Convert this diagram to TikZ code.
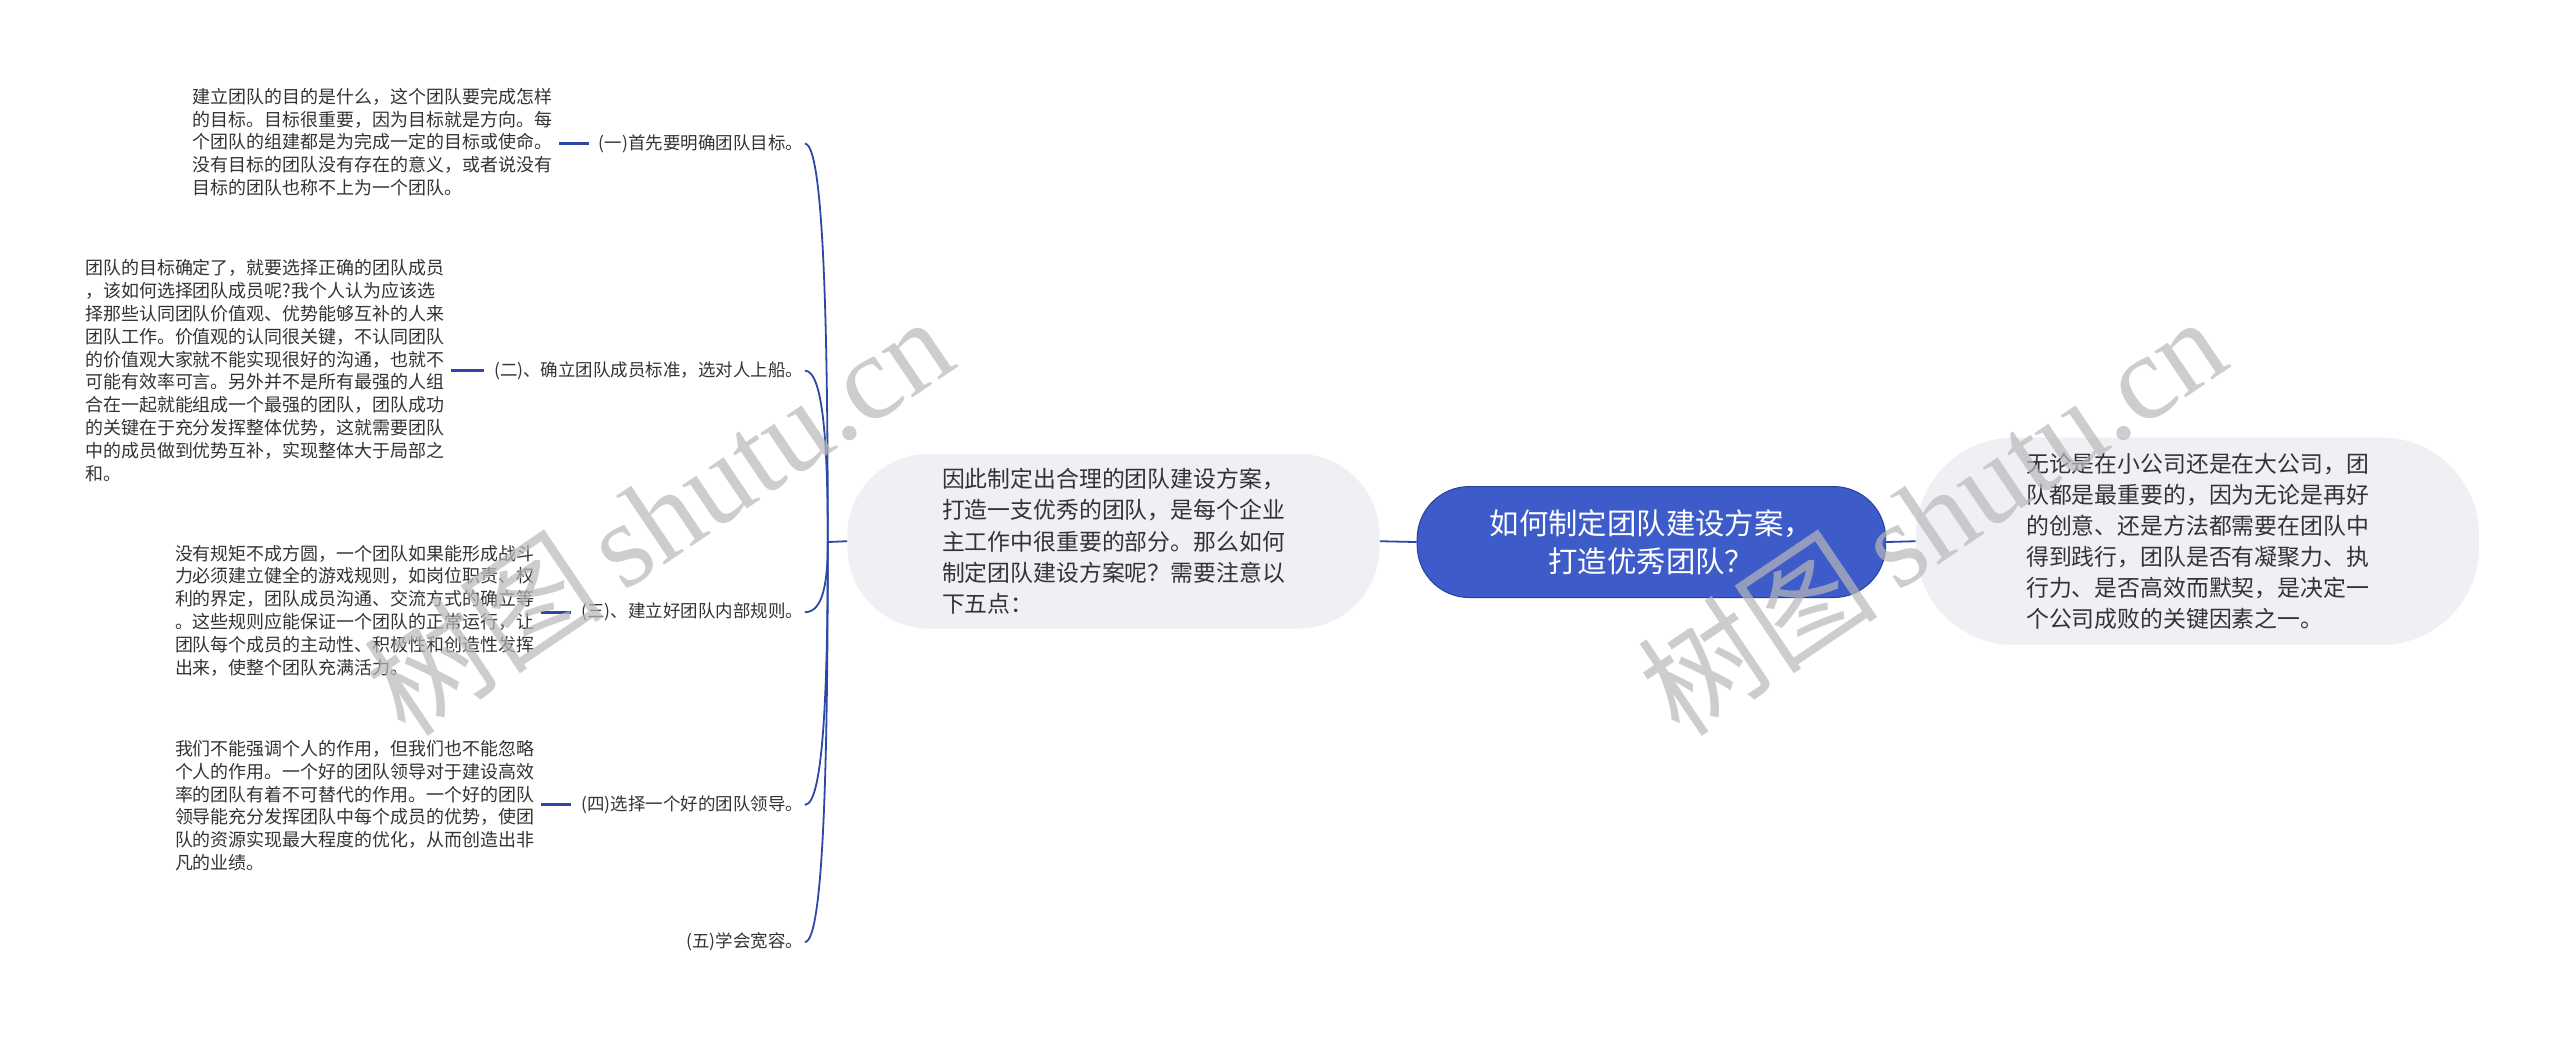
\documentclass[tikz,border=0pt]{standalone}
\usepackage{fontspec}
\setmainfont{Noto Sans CJK SC}
\newfontfamily\wmfont{Liberation Serif}
\definecolor{lineblue}{RGB}{44,72,166}
\definecolor{hubblue}{RGB}{61,91,201}
\definecolor{hubedge}{RGB}{40,64,150}
\definecolor{bggray}{RGB}{238,240,244}
\definecolor{textgray}{RGB}{51,51,51}
\definecolor{wmgray}{RGB}{185,185,185}
\tikzset{
  desc/.style={anchor=west, align=left, inner sep=0pt, text=textgray,
    font=\fontsize{11}{14}\selectfont},
  lab/.style={anchor=east, inner xsep=1pt, inner ysep=2pt, text=textgray,
    font=\fontsize{10.7}{14}\selectfont},
  branch/.style={draw=lineblue, line width=1.1pt},
  tick/.style={draw=lineblue, line width=1.8pt},
  pill/.style={fill=bggray, align=left, text=textgray, inner sep=0pt,
    font=\fontsize{14}{19}\selectfont},
  centre/.style={fill=hubblue, draw=hubedge, line width=0.6pt, align=center,
    text=white, inner sep=0pt, minimum width=287pt, minimum height=68pt,
    rounded corners=32pt, font=\fontsize{18}{23}\selectfont},
  wm/.style={text=wmgray, opacity=0.7, rotate=34, inner sep=0pt}
}
\begin{document}
\begin{tikzpicture}[x=1pt,y=-1pt]
\fill[white] (0,0) rectangle (1568,636);
\useasboundingbox (0,0) rectangle (1568,636);

% central and first-level nodes
\node[centre] (c) at (1011.5,332) {如何制定团队建设方案，\\打造优秀团队？};
\node[pill, minimum width=345pt, minimum height=127pt, rounded corners=60pt] (r) at (1346,331.5)
  {无论是在小公司还是在大公司，团\\队都是最重要的，因为无论是再好\\的创意、还是方法都需要在团队中\\得到践行，团队是否有凝聚力、执\\行力、是否高效而默契，是决定一\\个公司成败的关键因素之一。};
\node[pill, minimum width=326pt, minimum height=107pt, rounded corners=50pt] (m) at (682,331.5)
  {因此制定出合理的团队建设方案，\\打造一支优秀的团队，是每个企业\\主工作中很重要的部分。那么如何\\制定团队建设方案呢？需要注意以\\下五点：};
\draw[branch] (c.east) -- (r.west);
\draw[branch] (c.west) -- (m.east);

% five points
\node[lab] (l1) at (493,88) {(一)首先要明确团队目标。};
\node[lab] (l2) at (493,227) {(二)、确立团队成员标准，选对人上船。};
\node[lab] (l3) at (493,375) {(三)、建立好团队内部规则。};
\node[lab] (l4) at (493,493) {(四)选择一个好的团队领导。};
\node[lab] (l5) at (493,577) {(五)学会宽容。};

\coordinate (hub) at (507,332);
\draw[branch] (hub) -- (m.west);
\foreach \n/\yy in {l1/88,l2/227,l3/375,l4/493,l5/577}{
  \draw[branch] (hub) .. controls (507,{332+0.5*(\yy-332)}) and (505,\yy) .. (\n.east);
}

% descriptions
\node[desc] (d1) at (118,87) {建立团队的目的是什么，这个团队要完成怎样\\的目标。目标很重要，因为目标就是方向。每\\个团队的组建都是为完成一定的目标或使命。\\没有目标的团队没有存在的意义，或者说没有\\目标的团队也称不上为一个团队。};
\node[desc] (d2) at (52,227) {团队的目标确定了，就要选择正确的团队成员\\，该如何选择团队成员呢?我个人认为应该选\\择那些认同团队价值观、优势能够互补的人来\\团队工作。价值观的认同很关键，不认同团队\\的价值观大家就不能实现很好的沟通，也就不\\可能有效率可言。另外并不是所有最强的人组\\合在一起就能组成一个最强的团队，团队成功\\的关键在于充分发挥整体优势，这就需要团队\\中的成员做到优势互补，实现整体大于局部之\\和。};
\node[desc] (d3) at (107,374) {没有规矩不成方圆，一个团队如果能形成战斗\\力必须建立健全的游戏规则，如岗位职责、权\\利的界定，团队成员沟通、交流方式的确立等\\。这些规则应能保证一个团队的正常运行，让\\团队每个成员的主动性、积极性和创造性发挥\\出来，使整个团队充满活力。};
\node[desc] (d4) at (107,493.5) {我们不能强调个人的作用，但我们也不能忽略\\个人的作用。一个好的团队领导对于建设高效\\率的团队有着不可替代的作用。一个好的团队\\领导能充分发挥团队中每个成员的优势，使团\\队的资源实现最大程度的优化，从而创造出非\\凡的业绩。};

\draw[tick] ([xshift=4pt]d1.east |- l1.west) -- ([xshift=-5pt]l1.west);
\draw[tick] ([xshift=4pt]d2.east |- l2.west) -- ([xshift=-5pt]l2.west);
\draw[tick] ([xshift=4pt]d3.east |- l3.west) -- ([xshift=-5pt]l3.west);
\draw[tick] ([xshift=4pt]d4.east |- l4.west) -- ([xshift=-5pt]l4.west);

% watermarks
\node[wm] (w1) at (403,315) {\fontsize{74}{74}\selectfont 树图\,{\wmfont shutu.cn}};
\node[wm] (w2) at (1183,315) {\fontsize{74}{74}\selectfont 树图\,{\wmfont shutu.cn}};
\end{tikzpicture}
\end{document}
